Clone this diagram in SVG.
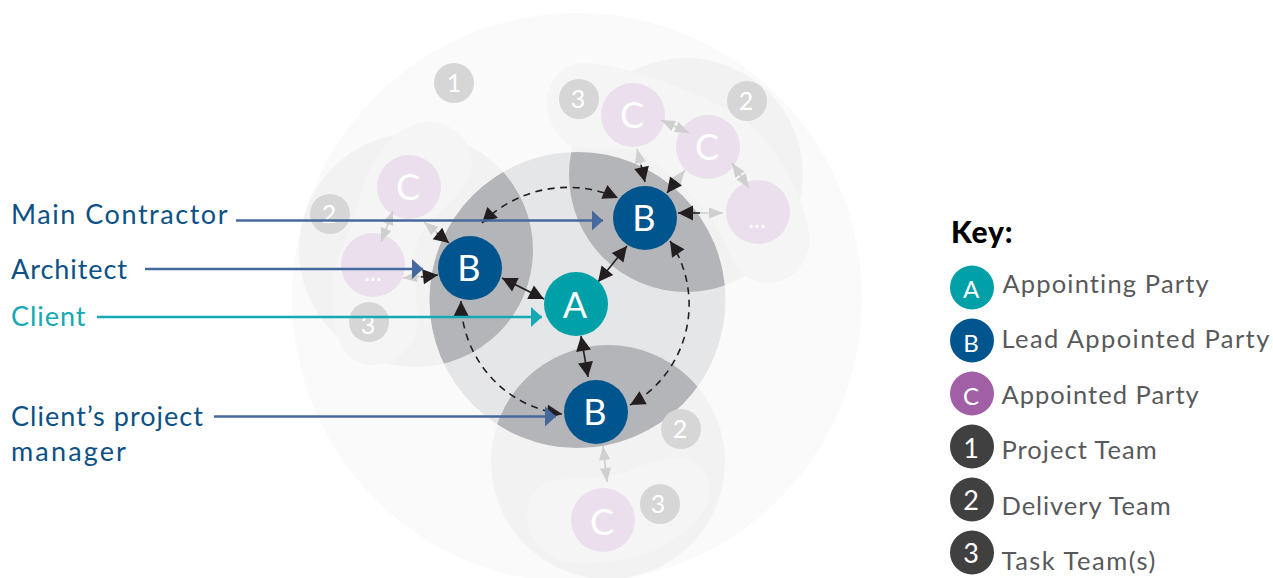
<svg xmlns="http://www.w3.org/2000/svg" width="1273" height="578" viewBox="0 0 1273 578">
<style>
text{font-family:"Lato","Noto Sans",sans-serif}
.n{text-anchor:middle;fill:#fff;font-size:36px}
.b{text-anchor:middle;fill:#fff;font-size:25px}
.k{text-anchor:middle;fill:#fff;font-size:24px}
.d{text-anchor:middle;fill:#fff;font-size:27px}
.l{font-size:27px;fill:#0b5186}
.t{font-size:25.5px;fill:#58595b}
.dl{fill:#f2f2f2}
.bl{fill:#f5f5f5}
.lens{fill:#b4b5b8}
.pink{fill:#ebdfed}
.badge{fill:#d6d6d6}
.A{fill:#00a0a9}
.B{fill:#00558e}
.solid{fill:none;stroke:#231f20;stroke-width:1.6}
.dash{fill:none;stroke:#231f20;stroke-width:1.6;stroke-dasharray:7 5.500}
.grey{fill:none;stroke:#cfcfcf;stroke-width:1.6}
.lab{stroke-width:2.600;fill:none}
</style>
<defs>
<clipPath id="inner"><circle cx="577.500" cy="300" r="148"/></clipPath>
<marker id="hb" markerUnits="userSpaceOnUse" markerWidth="18" markerHeight="18" refX="16" refY="9" orient="auto-start-reverse"><path d="M1 1.500L16 9L1 16.500z" fill="#231f20"/></marker>
<marker id="hg" markerUnits="userSpaceOnUse" markerWidth="18" markerHeight="14" refX="15" refY="7" orient="auto-start-reverse"><path d="M1 1.500L15 7L1 12.500z" fill="#cfcfcf"/></marker>
<marker id="hblue" markerUnits="userSpaceOnUse" markerWidth="12" markerHeight="22" refX="11" refY="11" orient="auto"><path d="M0 1L11 11L0 21z" fill="#46699d"/></marker>
<marker id="hteal" markerUnits="userSpaceOnUse" markerWidth="12" markerHeight="22" refX="11" refY="11" orient="auto"><path d="M0 1L11 11L0 21z" fill="#14a9b3"/></marker>
</defs>

<g id="project-team"><circle cx="577" cy="298" r="285" fill="#fafafa"/></g>
<g id="delivery-teams">
<circle class="dl" cx="416" cy="250" r="117"/>
<circle class="dl" cx="686" cy="175" r="117"/>
<circle class="dl" cx="608" cy="462" r="117"/>
</g>
<g id="task-teams">
<path class="bl" d="M430 122C452 122 472 140 472 163C472 195 428 215 418 240C410 265 418 295 417 327C414 350 395 365 372 365C348 365 332 345 332 293C332 262 350 235 358 205C366 165 392 122 430 122Z"/>
<path class="bl" d="M547 100C549 78 565 62 585 63C620 64 680 85 735 113C775 140 800 190 808 227C815 262 790 284 767 283C748 282 735 268 728 250C715 215 690 190 640 152C615 146 595 150 573 147C558 140 546 120 547 100Z"/>
<path class="bl" d="M527 517C527 497 535 484 552 481C570 477 595 480 625 472C645 464 665 456 683 458C700 462 710 475 710 492C708 515 685 535 660 548C630 560 595 566 565 562C540 556 527 535 527 517Z"/>
</g>
<g id="inner-zone">
<circle cx="577.500" cy="300" r="148" fill="#e5e6e8"/>
<g clip-path="url(#inner)">
<circle class="lens" cx="416" cy="250" r="117"/>
<circle class="lens" cx="686" cy="175" r="117"/>
<circle class="lens" cx="608" cy="462" r="117"/>
</g>
<path d="M663 421L672 412L677 414L668 423Z" fill="#3c3a3b"/>
</g>

<g id="badge-1"><circle class="badge" cx="454" cy="83" r="20"/><text class="b" x="454" y="92">1</text></g>
<g id="badge-3-top"><circle class="badge" cx="579" cy="99" r="20"/><text class="b" x="578" y="108">3</text></g>
<g id="badge-2-top"><circle class="badge" cx="747" cy="101" r="20"/><text class="b" x="746" y="110">2</text></g>
<g id="badge-2-left"><circle class="badge" cx="330" cy="214" r="20"/><text class="b" x="329" y="223">2</text></g>
<g id="badge-3-left"><circle class="badge" cx="369" cy="322" r="20"/><text class="b" x="368" y="334">3</text></g>
<g id="badge-2-bottom"><circle class="badge" cx="681" cy="429" r="20"/><text class="b" x="680" y="438">2</text></g>
<g id="badge-3-bottom"><circle class="badge" cx="660" cy="504" r="20"/><text class="b" x="658" y="513">3</text></g>

<g id="node-c-left"><circle class="pink" cx="409" cy="187" r="32"/><text class="n" x="408" y="200">C</text></g>
<g id="node-etc-left"><circle class="pink" cx="373" cy="265" r="32"/><text class="b" x="373" y="281">...</text></g>
<g id="node-c-top1"><circle class="pink" cx="633" cy="115" r="32"/><text class="n" x="632" y="128">C</text></g>
<g id="node-c-top2"><circle class="pink" cx="708" cy="147" r="32"/><text class="n" x="707" y="160">C</text></g>
<g id="node-etc-top"><circle class="pink" cx="758" cy="212" r="32"/><text class="b" x="757" y="228">...</text></g>
<g id="node-c-bottom"><circle class="pink" cx="603" cy="520" r="32"/><text class="n" x="602" y="535">C</text></g>

<g id="connectors">
<path class="dash" d="M482 223A122 122 0 0 1 618 198" marker-start="url(#hb)" marker-end="url(#hb)"/>
<path class="dash" d="M670 241A115 115 0 0 1 630 405" marker-start="url(#hb)" marker-end="url(#hb)"/>
<path class="dash" d="M562 414A115 115 0 0 1 461 301" marker-start="url(#hb)" marker-end="url(#hb)"/>
<path class="solid" d="M598 282L627 246" marker-start="url(#hb)" marker-end="url(#hb)"/>
<path class="solid" d="M502 278L544 299" marker-start="url(#hb)" marker-end="url(#hb)"/>
<path class="solid" d="M581 336L588 377" marker-start="url(#hb)" marker-end="url(#hb)"/>
<path class="grey" d="M661 120L689 133" marker-start="url(#hg)" marker-end="url(#hg)"/>
<path class="grey" d="M732 163L749 188" marker-start="url(#hg)" marker-end="url(#hg)"/>
<path class="grey" d="M393 211L381 242" marker-start="url(#hg)" marker-end="url(#hg)"/>
<path class="grey" d="M603 446L607 482" marker-start="url(#hg)" marker-end="url(#hg)"/>
<path class="grey" d="M637 149L645 182" marker-start="url(#hg)"/><path class="solid" d="M641 165L645 182" marker-end="url(#hb)"/>
<path class="grey" d="M685 170L667 193" marker-start="url(#hg)"/><path class="solid" d="M676 181L667 193" marker-end="url(#hb)"/>
<path class="grey" d="M723 213L678 213" marker-start="url(#hg)"/><path class="solid" d="M700 213L678 213" marker-end="url(#hb)"/>
<path class="grey" d="M424 222L449 243" marker-start="url(#hg)"/><path class="solid" d="M437 233L449 243" marker-end="url(#hb)"/>
<path class="grey" d="M403 278L438 275" marker-start="url(#hg)"/><path class="solid" d="M421 277L438 275" marker-end="url(#hb)"/>
</g>

<g id="node-a"><circle class="A" cx="576" cy="304" r="32"/><text class="n" x="575" y="318">A</text></g>
<g id="node-b-top"><circle class="B" cx="645" cy="218" r="32"/><text class="n" x="644" y="231">B</text></g>
<g id="node-b-left"><circle class="B" cx="470" cy="268" r="32"/><text class="n" x="469" y="281">B</text></g>
<g id="node-b-bottom"><circle class="B" cx="596" cy="412" r="32"/><text class="n" x="595" y="425">B</text></g>

<g id="label-connectors">
<path class="lab" stroke="#46699d" d="M236 220.500H603" marker-end="url(#hblue)"/>
<path class="lab" stroke="#46699d" d="M145 269H423" marker-end="url(#hblue)"/>
<path class="lab" stroke="#14a9b3" d="M97 317H542" marker-end="url(#hteal)"/>
<path class="lab" stroke="#46699d" d="M214 416.500H556" marker-end="url(#hblue)"/>
</g>

<g id="labels">
<text class="l" x="11" y="223.500" letter-spacing="1.55">Main Contractor</text>
<text class="l" x="11" y="278.500" letter-spacing="0.95">Architect</text>
<text class="l" x="11" y="325.500" letter-spacing="0.95" style="fill:#14a9b3">Client</text>
<text class="l" x="11" y="425.500" letter-spacing="1.03">Client’s project</text>
<text class="l" x="11" y="460.500" letter-spacing="2.15">manager</text>
</g>

<g id="key">
<text x="951" y="243" font-size="30" letter-spacing="0.8" fill="#000" style="font-weight:900">Key:</text>
<g id="key-a"><circle class="A" cx="972" cy="287.500" r="22"/><text class="k" x="971" y="298">A</text><text class="t" x="1002.500" y="293" letter-spacing="1.15">Appointing Party</text></g>
<g id="key-b"><circle class="B" cx="972" cy="340.500" r="22"/><text class="k" x="971" y="352">B</text><text class="t" x="1001.500" y="348" letter-spacing="1.4">Lead Appointed Party</text></g>
<g id="key-c"><circle cx="972" cy="393.500" r="22" fill="#a160a6"/><text class="k" x="971" y="405">C</text><text class="t" x="1001.500" y="404" letter-spacing="1.02">Appointed Party</text></g>
<g id="key-1"><circle cx="972" cy="446.500" r="22" fill="#404040"/><text class="d" x="971" y="458">1</text><text class="t" x="1001.500" y="459" letter-spacing="1.02">Project Team</text></g>
<g id="key-2"><circle cx="972" cy="499.500" r="22" fill="#404040"/><text class="d" x="971" y="510">2</text><text class="t" x="1001.500" y="515" letter-spacing="0.95">Delivery Team</text></g>
<g id="key-3"><circle cx="972" cy="552.500" r="22" fill="#404040"/><text class="d" x="971" y="563">3</text><text class="t" x="1001.500" y="570" letter-spacing="1.5">Task Team(s)</text></g>
</g>
</svg>
